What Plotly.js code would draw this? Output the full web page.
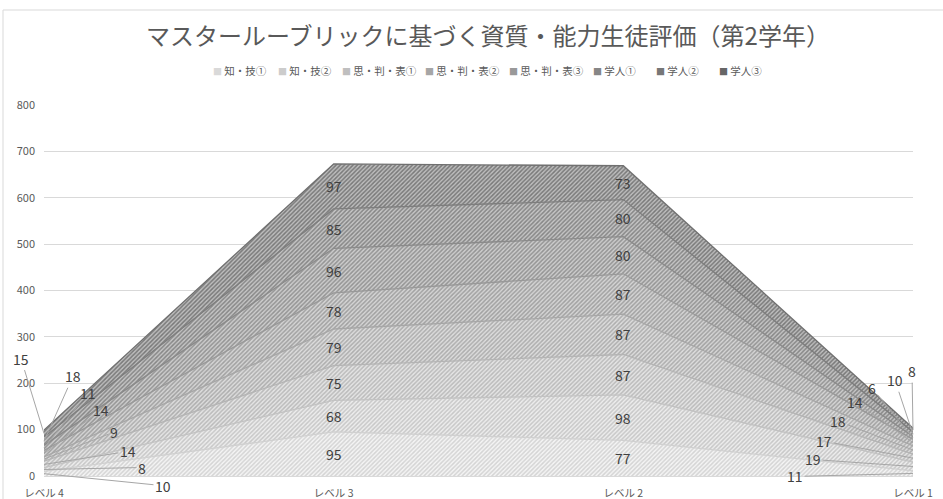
<!DOCTYPE html>
<html>
<head>
<meta charset="utf-8">
<script src="https://cdn.plot.ly/plotly-3.0.1.min.js"></script>
<style>html,body{margin:0;padding:0;background:#fff;}#chart{width:943px;height:499px;}</style>
</head>
<body>
<div id="chart"></div>
<script>
// ---- data ----
const categories = ['レベル 4', 'レベル 3', 'レベル 2', 'レベル 1'];
const seriesNames = ['知・技①', '知・技②', '思・判・表①', '思・判・表②', '思・判・表③', '学人①', '学人②', '学人③'];
const chigi1 = [10, 95, 77, 11];
const chigi2 = [8, 68, 98, 19];
const shihan1 = [14, 75, 87, 17];
const shihan2 = [9, 79, 87, 18];
const shihan3 = [14, 78, 87, 14];
const gakujin1 = [11, 96, 80, 6];
const gakujin2 = [18, 85, 80, 10];
const gakujin3 = [15, 97, 73, 8];
const yTickVals = [0, 100, 200, 300, 400, 500, 600, 700, 800];
const titleText = 'マスタールーブリックに基づく資質・能力生徒評価（第2学年）';

// ---- styles ----
const allSeries = [chigi1, chigi2, shihan1, shihan2, shihan3, gakujin1, gakujin2, gakujin3];
const bgColors = ['#f5f5f5', '#eeeeee', '#e6e6e6', '#dedede', '#d6d6d6', '#cecece', '#c6c6c6', '#bebebe'];
const fgColors = ['#d4d4d4', '#c7c7c7', '#bababa', '#adadad', '#a0a0a0', '#939393', '#868686', '#797979'];
const lineColors = ['#d0d0d0', '#c2c2c2', '#b4b4b4', '#a6a6a6', '#989898', '#8a8a8a', '#7d7d7d', '#707070'];
const swatchColors = ['#d9d9d9', '#cccccc', '#bfbfbf', '#a6a6a6', '#999999', '#868686', '#777777', '#666666'];
// legend entry left edges (pixels) and label offsets (pixels) for end-point data labels
const legendLeftPx = [211, 276, 340, 423, 507, 591, 654, 717];
const leftOffsets = [[119, 12], [98, -2], [84, -13], [70, -27], [57, -44], [44, -55], [29, -65], [-23, -75]];
const rightOffsets = [[-118, 3], [-100, -7], [-89, -17], [-75, -29], [-58, -41], [-41, -50], [-18, -54], [-1, -59]];

const font = 'Noto Sans CJK JP, Noto Sans, sans-serif';
const plotL = 44, plotR = 913, plotT = 105, plotB = 476;
const pxToPaperX = px => (px - plotL) / (plotR - plotL);
const pxToPaperY = py => (plotB - py) / (plotB - plotT);

const traces = allSeries.map((vals, i) => ({
  type: 'scatter',
  mode: 'lines',
  name: seriesNames[i],
  x: categories,
  y: vals,
  stackgroup: 'one',
  showlegend: false,
  line: {color: lineColors[i], width: 1.3},
  fillcolor: bgColors[i],
  fillpattern: {shape: '/', fgcolor: fgColors[i], bgcolor: bgColors[i], size: 3, solidity: 0.5},
  hoverinfo: 'x+y+name'
}));

const annotations = [];
// data labels at band centres
const cum = [0, 0, 0, 0];
allSeries.forEach((vals, i) => {
  vals.forEach((v, j) => {
    const mid = cum[j] + v / 2;
    cum[j] += v;
    const a = {
      x: categories[j], y: mid, xref: 'x', yref: 'y',
      text: String(v),
      font: {family: font, size: 14, color: '#404040'}
    };
    if (j === 0 || j === 3) {
      const off = j === 0 ? leftOffsets[i] : rightOffsets[i];
      a.showarrow = true;
      a.arrowhead = 0;
      a.arrowwidth = 1;
      a.arrowcolor = '#a6a6a6';
      a.ax = off[0];
      a.ay = off[1];
      a.standoff = 0;
    } else {
      a.showarrow = false;
    }
    annotations.push(a);
  });
});
// legend
seriesNames.forEach((name, i) => {
  annotations.push({
    xref: 'paper', yref: 'paper',
    x: pxToPaperX(legendLeftPx[i]), y: pxToPaperY(70),
    xanchor: 'left', yanchor: 'middle',
    showarrow: false,
    text: '<span style="color:' + swatchColors[i] + ';font-size:9px">■</span> ' + name,
    font: {family: font, size: 10.5, color: '#595959'}
  });
});

const layout = {
  width: 943,
  height: 499,
  paper_bgcolor: '#ffffff',
  plot_bgcolor: '#ffffff',
  margin: {l: plotL, r: 943 - plotR, t: plotT, b: 499 - plotB},
  font: {family: font, color: '#595959'},
  title: {
    text: titleText,
    font: {family: font, size: 24, color: '#595959'},
    x: pxToPaperX(488), xref: 'paper', xanchor: 'center',
    y: 0.926, yref: 'container', yanchor: 'middle'
  },
  showlegend: false,
  xaxis: {
    type: 'category',
    range: [0, 3],
    showgrid: false,
    showline: true,
    linecolor: '#d9d9d9',
    linewidth: 1,
    ticks: '',
    ticklabelstandoff: 7,
    tickfont: {family: font, size: 10.5, color: '#595959'},
    fixedrange: true
  },
  yaxis: {
    range: [0, 800],
    tickvals: yTickVals,
    showgrid: true,
    gridcolor: '#d9d9d9',
    gridwidth: 1,
    zeroline: false,
    showline: false,
    ticks: '',
    ticklabelstandoff: 8,
    tickfont: {family: font, size: 11, color: '#595959'},
    fixedrange: true
  },
  annotations: annotations,
  shapes: [{
    type: 'rect', xref: 'paper', yref: 'paper',
    x0: pxToPaperX(3), x1: pxToPaperX(960), y0: pxToPaperY(520), y1: pxToPaperY(10),
    line: {color: '#d9d9d9', width: 1},
    fillcolor: 'rgba(0,0,0,0)',
    layer: 'below'
  }]
};

Plotly.newPlot('chart', traces, layout, {displayModeBar: false, staticPlot: true});
</script>
</body>
</html>
